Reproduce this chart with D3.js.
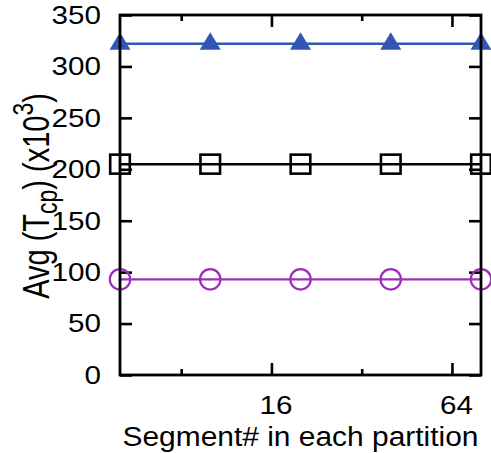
<!DOCTYPE html>
<html>
<head>
<meta charset="utf-8">
<script src="https://cdn.jsdelivr.net/npm/d3@7"></script>
<style>
  body { margin: 0; background: #fff; }
  text { font-family: "Liberation Sans", Arial, sans-serif; fill: #000; }
</style>
</head>
<body>
<svg id="chart" width="491" height="453"></svg>
<script>
// data
const segments = [5, 10, 20, 40, 80];
const seriesTriangle = [322, 322, 322, 322, 322];
const seriesSquare = [205, 205, 205, 205, 205];
const seriesCircle = [93, 93, 93, 93, 93];
const xMajorTicks = [16, 64];
const xMinorTicks = [8, 32];
const yTicks = [0, 50, 100, 150, 200, 250, 300, 350];

// layout
const margin = { top: 15, left: 120, right: 10, bottom: 78 };
const width = 491;
const height = 453;
const stretch = 1.14; // text in the figure is a bit wider than normal

var svg = d3.select("#chart");

var xScale = d3.scaleLog()
  .base(2)
  .domain([5, 80])
  .range([margin.left, width - margin.right]);

var yScale = d3.scaleLinear()
  .domain([0, 350])
  .range([height - margin.bottom, margin.top]);

var x0 = xScale.range()[0], x1 = xScale.range()[1];
var y0 = yScale.range()[0], y1 = yScale.range()[1];

// axes (ticks point inward, mirrored on top/right)
var gBottom = svg.append("g")
  .attr("transform", "translate(0," + y0 + ")")
  .call(d3.axisBottom(xScale).tickValues(xMajorTicks).tickFormat(d3.format("d"))
    .tickSizeInner(-12).tickSizeOuter(0).tickPadding(21));

svg.append("g")
  .attr("transform", "translate(0," + y0 + ")")
  .call(d3.axisBottom(xScale).tickValues(xMinorTicks).tickFormat("")
    .tickSizeInner(-6).tickSizeOuter(0));

svg.append("g")
  .attr("transform", "translate(0," + y1 + ")")
  .call(d3.axisTop(xScale).tickValues(xMajorTicks).tickFormat("")
    .tickSizeInner(-12).tickSizeOuter(0));

svg.append("g")
  .attr("transform", "translate(0," + y1 + ")")
  .call(d3.axisTop(xScale).tickValues(xMinorTicks).tickFormat("")
    .tickSizeInner(-6).tickSizeOuter(0));

var gLeft = svg.append("g")
  .attr("transform", "translate(" + x0 + ",0)")
  .call(d3.axisLeft(yScale).tickValues(yTicks)
    .tickSizeInner(-12).tickSizeOuter(0).tickPadding(19));

svg.append("g")
  .attr("transform", "translate(" + x1 + ",0)")
  .call(d3.axisRight(yScale).tickValues(yTicks).tickFormat("")
    .tickSizeInner(-12).tickSizeOuter(0));

svg.selectAll(".domain").remove();
svg.selectAll(".tick line").attr("stroke", "#000").attr("stroke-width", 2.6);

gBottom.selectAll(".tick text")
  .attr("font-size", 26)
  .attr("font-family", null)
  .attr("x", 4 / stretch)
  .attr("transform", "scale(" + stretch + ",1)");

gLeft.selectAll(".tick text")
  .attr("font-size", 26)
  .attr("font-family", null)
  .attr("x", -19 / stretch)
  .attr("transform", "scale(" + stretch + ",1)");

// series
function drawSeries(values, color, width) {
  var line = d3.line()
    .x((d, i) => xScale(segments[i]))
    .y(d => yScale(d));
  svg.append("path")
    .datum(values)
    .attr("d", line)
    .attr("fill", "none")
    .attr("stroke", color)
    .attr("stroke-width", width);
}

drawSeries(seriesTriangle, "#3356b4", 2.4);
drawSeries(seriesSquare, "#000", 2.5);
drawSeries(seriesCircle, "#9b30b3", 2.4);

svg.append("g").selectAll("path")
  .data(seriesTriangle)
  .enter()
  .append("path")
  .attr("transform", (d, i) => "translate(" + xScale(segments[i]) + "," + yScale(d) + ")")
  .attr("d", "M0,-11.5L10.5,6L-10.5,6Z")
  .attr("fill", "#3356b4");

svg.append("g").selectAll("rect")
  .data(seriesSquare)
  .enter()
  .append("rect")
  .attr("x", (d, i) => xScale(segments[i]) - 9.8)
  .attr("y", d => yScale(d) - 9.5)
  .attr("width", 19.6)
  .attr("height", 19)
  .attr("fill", "none")
  .attr("stroke", "#000")
  .attr("stroke-width", 2.6);

svg.append("g").selectAll("circle")
  .data(seriesCircle)
  .enter()
  .append("circle")
  .attr("cx", (d, i) => xScale(segments[i]))
  .attr("cy", d => yScale(d))
  .attr("r", 10.2)
  .attr("fill", "none")
  .attr("stroke", "#9b30b3")
  .attr("stroke-width", 2.2);

// frame on top
svg.append("rect")
  .attr("x", x0)
  .attr("y", y1)
  .attr("width", x1 - x0)
  .attr("height", y0 - y1)
  .attr("fill", "none")
  .attr("stroke", "#000")
  .attr("stroke-width", 2.8);

// axis titles
svg.append("text")
  .attr("x", (x0 + x1) / 2)
  .attr("y", 446)
  .attr("text-anchor", "middle")
  .attr("font-size", 27)
  .attr("textLength", 356)
  .attr("lengthAdjust", "spacingAndGlyphs")
  .text("Segment# in each partition");

var yLabel = svg.append("text")
  .attr("transform", "translate(49,196) scale(1.25,1) rotate(-90)")
  .attr("text-anchor", "middle")
  .attr("font-size", 29);
yLabel.append("tspan").text("Avg (T");
yLabel.append("tspan").attr("font-size", 23).attr("dy", 6).text("cp");
yLabel.append("tspan").attr("dy", -6).text(") (x10");
yLabel.append("tspan").attr("font-size", 23).attr("dy", -13).text("3");
yLabel.append("tspan").attr("dy", 13).text(")");
</script>
</body>
</html>
